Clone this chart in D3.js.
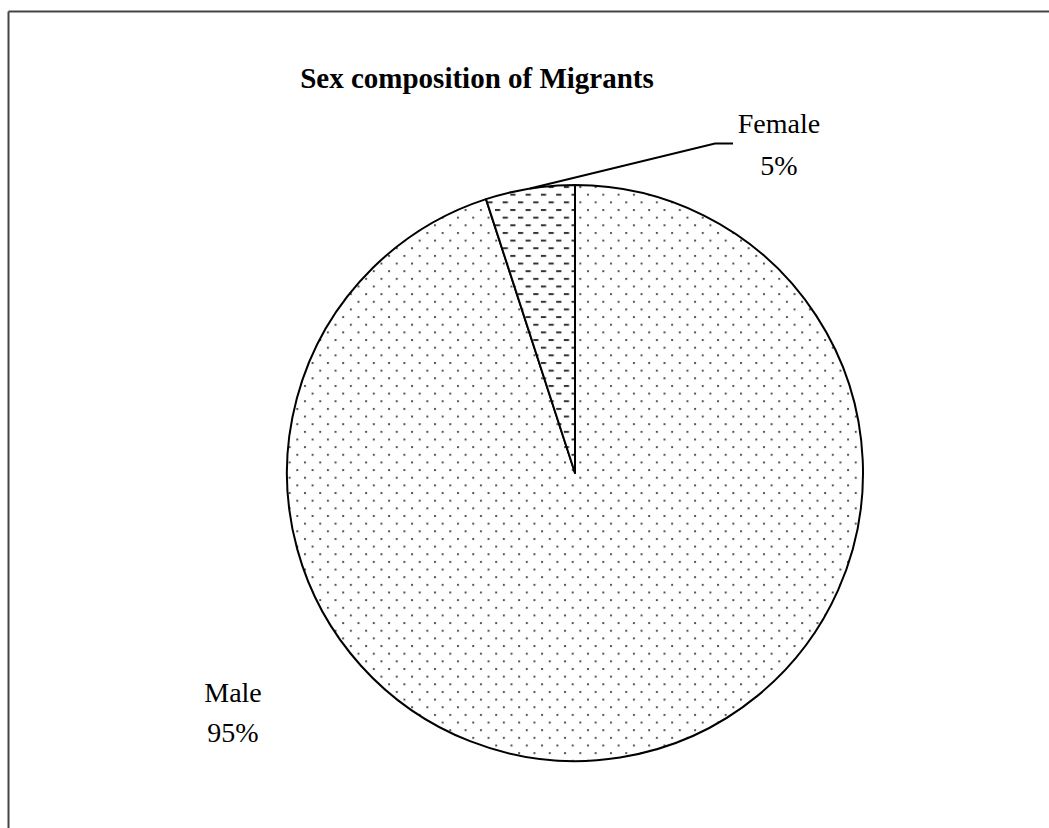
<!DOCTYPE html>
<html>
<head>
<meta charset="utf-8">
<script src="https://cdn.jsdelivr.net/npm/d3@7"></script>
<style>
  html, body { margin: 0; padding: 0; background: #fff; }
  svg { display: block; }
  text { font-family: "Liberation Serif", "Times New Roman", serif; fill: #000; }
</style>
</head>
<body>
<svg id="chart" width="1049" height="828"></svg>
<script>
// Sex composition of migrants (percent)
const categories = ["Male", "Female"];
const shares = [95, 5];
const percentLabels = ["95%", "5%"];
const title = "Sex composition of Migrants";

const W = 1049, H = 828;
const cx = 575, cy = 473, radius = 288;

const svg = d3.select("#chart");

// hatch fills: fine dots for Male, short dashes for Female
const defs = svg.append("defs");
const tile = 15.3;
const dots = defs.append("pattern")
  .attr("id", "dots").attr("patternUnits", "userSpaceOnUse")
  .attr("width", tile).attr("height", tile)
  .attr("x", 12).attr("y", 11.4);
dots.append("rect").attr("width", tile).attr("height", tile).attr("fill", "#fff");
dots.append("rect").attr("x", 0).attr("y", 0).attr("width", 2).attr("height", 2).attr("fill", "#555");
dots.append("rect").attr("x", tile / 2).attr("y", tile / 2).attr("width", 2).attr("height", 2).attr("fill", "#555");

const dashes = defs.append("pattern")
  .attr("id", "dashes").attr("patternUnits", "userSpaceOnUse")
  .attr("width", tile).attr("height", tile)
  .attr("x", 11.8).attr("y", 11.4);
dashes.append("rect").attr("width", tile).attr("height", tile).attr("fill", "#fff");
dashes.append("rect").attr("x", 0).attr("y", 0).attr("width", 5.2).attr("height", 2).attr("fill", "#333");
dashes.append("rect").attr("x", tile / 2).attr("y", tile / 2).attr("width", 5.2).attr("height", 2).attr("fill", "#333");

const fills = d3.scaleOrdinal().domain(categories).range(["url(#dots)", "url(#dashes)"]);

// chart frame (top and left edges visible)
svg.append("line").attr("x1", 8.5).attr("y1", 11.5).attr("x2", W).attr("y2", 11.5)
  .attr("stroke", "#444").attr("stroke-width", 2);
svg.append("line").attr("x1", 8.5).attr("y1", 11.5).attr("x2", 8.5).attr("y2", H)
  .attr("stroke", "#444").attr("stroke-width", 2);

// title
svg.append("text")
  .attr("x", 477).attr("y", 88)
  .attr("text-anchor", "middle")
  .attr("font-size", 29).attr("font-weight", "bold")
  .text(title);

const data = categories.map((c, i) => ({ name: c, value: shares[i], label: percentLabels[i] }));
const pie = d3.pie().sort(null).value(d => d.value);
const arcs = pie(data);
const arc = d3.arc().innerRadius(0).outerRadius(radius);

const g = svg.append("g").attr("transform", `translate(${cx},${cy})`);
g.selectAll("path.slice")
  .data(arcs)
  .join("path")
  .attr("class", "slice")
  .attr("d", arc)
  .attr("fill", d => fills(d.data.name))
  .attr("stroke", "#000")
  .attr("stroke-width", 2)
  .attr("stroke-linejoin", "round");

// Female label with leader line to the slice's outer arc
const female = arcs[1];
const midA = (female.startAngle + female.endAngle) / 2;
const edge = [cx + radius * Math.sin(midA), cy - radius * Math.cos(midA)];
svg.append("polyline")
  .attr("points", [edge, [715, 143.5], [733, 143.5]].map(p => p.join(",")).join(" "))
  .attr("fill", "none").attr("stroke", "#000").attr("stroke-width", 2);

const fLabel = svg.append("text").attr("text-anchor", "middle").attr("font-size", 28);
fLabel.append("tspan").attr("x", 779).attr("y", 133).text(female.data.name);
fLabel.append("tspan").attr("x", 779).attr("y", 175).text(female.data.label);

// Male label
const male = arcs[0];
const mLabel = svg.append("text").attr("text-anchor", "middle").attr("font-size", 28);
mLabel.append("tspan").attr("x", 233).attr("y", 702).text(male.data.name);
mLabel.append("tspan").attr("x", 233).attr("y", 742).text(male.data.label);
</script>
</body>
</html>
